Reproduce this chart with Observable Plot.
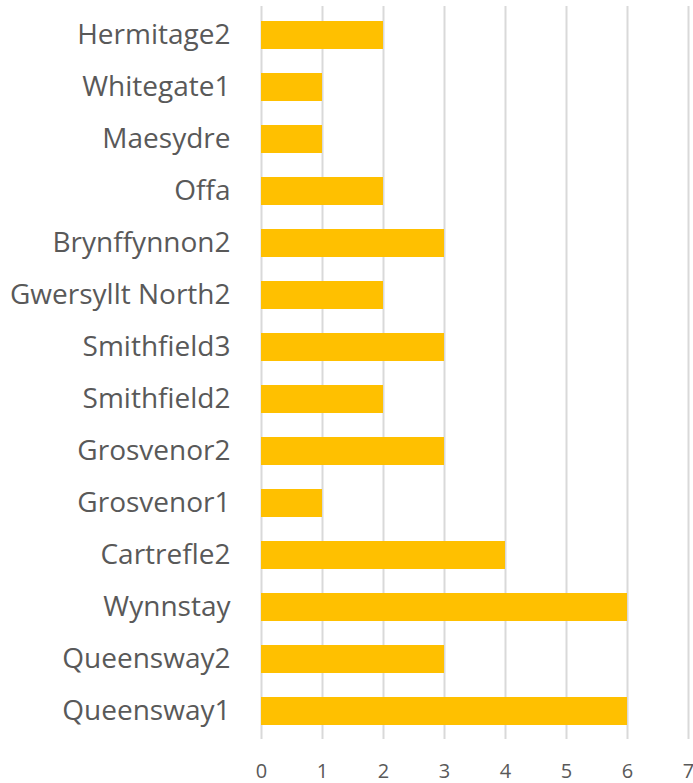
<!DOCTYPE html>
<html>
<head>
<meta charset="utf-8">
<script src="https://cdn.jsdelivr.net/npm/d3@7"></script>
<script src="https://cdn.jsdelivr.net/npm/@observablehq/plot@0.6"></script>
<style>
  html, body { margin: 0; padding: 0; background: #fff; }
  #chart { width: 693px; height: 783px; }
</style>
</head>
<body>
<div id="chart"></div>
<script>
const categories = ["Hermitage2", "Whitegate1", "Maesydre", "Offa", "Brynffynnon2", "Gwersyllt North2", "Smithfield3", "Smithfield2", "Grosvenor2", "Grosvenor1", "Cartrefle2", "Wynnstay", "Queensway2", "Queensway1"];
const values = [2, 1, 1, 2, 3, 2, 3, 2, 3, 1, 4, 6, 3, 6];
const xTicks = [0, 1, 2, 3, 4, 5, 6, 7];

const data = categories.map((c, i) => ({category: c, value: values[i]}));

const chart = Plot.plot({
  width: 693,
  height: 783,
  marginLeft: 261,
  marginRight: 5,
  marginTop: 6,
  marginBottom: 44,
  style: {fontFamily: "'Open Sans', sans-serif", background: "#fff", color: "#595959", overflow: "visible"},
  x: {domain: [0, 7], ticks: xTicks, label: null},
  y: {domain: categories, paddingInner: 0.47, paddingOuter: 0.235, label: null},
  marks: [
    Plot.ruleX(xTicks, {stroke: "#d9d9d9", strokeWidth: 2}),
    Plot.barX(data, {x: "value", y: "category", fill: "#FFC000"}),
    Plot.axisX({ticks: xTicks, tickFormat: "d", tickSize: 0, tickPadding: 24, fontSize: 20, fill: "#595959", label: null}),
    Plot.axisY({tickSize: 0, tickPadding: 31, fontSize: 28, fill: "#595959", label: null})
  ]
});
document.getElementById("chart").appendChild(chart);
</script>
</body>
</html>
